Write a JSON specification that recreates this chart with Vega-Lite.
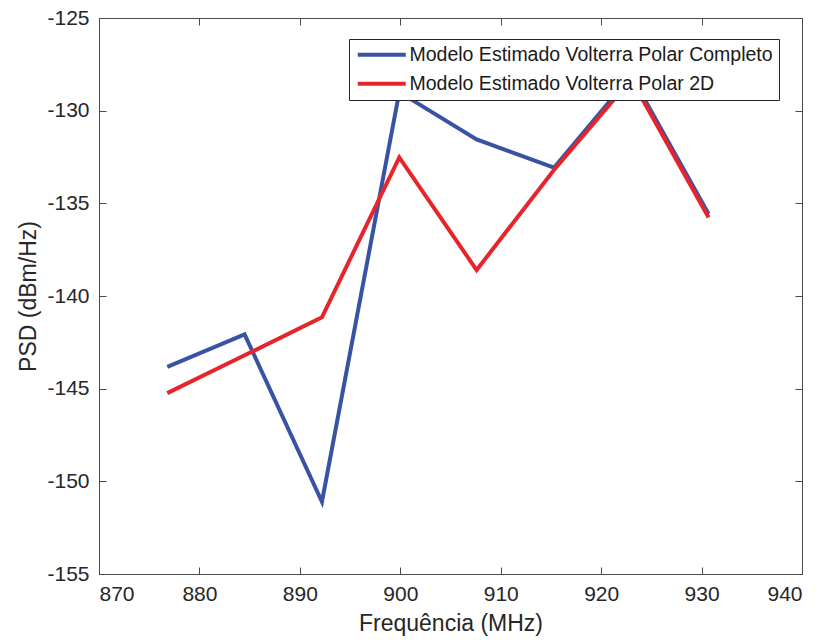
{
  "$schema": "https://vega.github.io/schema/vega-lite/v6.json",
  "width": 703,
  "height": 556,
  "autosize": {"type": "none"},
  "padding": {"left": 99, "top": 18, "right": 19, "bottom": 70},
  "background": "white",
  "config": {
    "font": "Liberation Sans",
    "view": {"stroke": "#4a4a4a", "strokeWidth": 1},
    "axis": {
      "domainColor": "#4a4a4a",
      "tickColor": "#4a4a4a",
      "labelColor": "#262626",
      "titleColor": "#262626",
      "labelFont": "Liberation Sans",
      "titleFont": "Liberation Sans",
      "labelFontSize": 21,
      "titleFontSize": 23,
      "titleFontWeight": "normal",
      "grid": false,
      "tickSize": -7
    },
    "legend": {
      "labelFont": "Liberation Sans",
      "labelFontSize": 19.5,
      "labelColor": "#1a1a1a"
    }
  },
  "data": {
    "values": [
      {"freq": 876.8, "psd": -143.82, "modelo": "Modelo Estimado Volterra Polar Completo"},
      {"freq": 884.5, "psd": -142.07, "modelo": "Modelo Estimado Volterra Polar Completo"},
      {"freq": 892.2, "psd": -151.1, "modelo": "Modelo Estimado Volterra Polar Completo"},
      {"freq": 899.9, "psd": -129.0, "modelo": "Modelo Estimado Volterra Polar Completo"},
      {"freq": 907.6, "psd": -131.55, "modelo": "Modelo Estimado Volterra Polar Completo"},
      {"freq": 915.3, "psd": -133.08, "modelo": "Modelo Estimado Volterra Polar Completo"},
      {"freq": 923.0, "psd": -128.1, "modelo": "Modelo Estimado Volterra Polar Completo"},
      {"freq": 930.7, "psd": -135.58, "modelo": "Modelo Estimado Volterra Polar Completo"},
      {"freq": 876.8, "psd": -145.24, "modelo": "Modelo Estimado Volterra Polar 2D"},
      {"freq": 884.5, "psd": -143.2, "modelo": "Modelo Estimado Volterra Polar 2D"},
      {"freq": 892.2, "psd": -141.15, "modelo": "Modelo Estimado Volterra Polar 2D"},
      {"freq": 899.9, "psd": -132.52, "modelo": "Modelo Estimado Volterra Polar 2D"},
      {"freq": 907.6, "psd": -138.6, "modelo": "Modelo Estimado Volterra Polar 2D"},
      {"freq": 915.3, "psd": -133.2, "modelo": "Modelo Estimado Volterra Polar 2D"},
      {"freq": 923.0, "psd": -128.3, "modelo": "Modelo Estimado Volterra Polar 2D"},
      {"freq": 930.7, "psd": -135.76, "modelo": "Modelo Estimado Volterra Polar 2D"}
    ]
  },
  "layer": [
    {
      "transform": [{"filter": "datum.modelo === 'Modelo Estimado Volterra Polar Completo'"}],
      "mark": {"type": "line", "strokeWidth": 4, "strokeJoin": "miter"},
      "encoding": {
        "x": {"field": "freq", "type": "quantitative", "scale": {"domain": [870, 940], "nice": false, "zero": false},
              "axis": {"title": "Frequência (MHz)", "values": [870, 880, 890, 900, 910, 920, 930, 940], "labelPadding": 16, "titlePadding": 8}},
        "y": {"field": "psd", "type": "quantitative", "scale": {"domain": [-155, -125], "nice": false, "zero": false},
              "axis": {"title": "PSD (dBm/Hz)", "values": [-155, -150, -145, -140, -135, -130, -125], "labelPadding": 17, "titlePadding": 6, "labelExpr": "toString(datum.value)"}},
        "color": {"field": "modelo", "type": "nominal",
                  "scale": {"domain": ["Modelo Estimado Volterra Polar Completo", "Modelo Estimado Volterra Polar 2D"], "range": ["#3953a4", "#e8242b"]},
                  "legend": {"title": null, "orient": "none", "legendX": 250, "legendY": 21, "symbolType": "M-4,0H4", "symbolSize": 144, "symbolStrokeWidth": 4,
                             "symbolOffset": 17, "labelOffset": 18,
                             "strokeColor": "#262626", "fillColor": "white", "padding": 6, "labelLimit": 600, "rowPadding": 8}}
      }
    },
    {
      "transform": [{"filter": "datum.modelo === 'Modelo Estimado Volterra Polar 2D'"}],
      "mark": {"type": "line", "strokeWidth": 4, "strokeJoin": "miter"},
      "encoding": {
        "x": {"field": "freq", "type": "quantitative", "axis": null},
        "y": {"field": "psd", "type": "quantitative", "axis": null},
        "color": {"field": "modelo", "type": "nominal"}
      }
    },
    {
      "mark": {"type": "line", "opacity": 0},
      "encoding": {
        "x": {"field": "freq", "type": "quantitative",
              "axis": {"orient": "top", "labels": false, "title": null, "domain": false, "values": [870, 880, 890, 900, 910, 920, 930, 940]}},
        "y": {"field": "psd", "type": "quantitative",
              "axis": {"orient": "right", "labels": false, "title": null, "domain": false, "values": [-155, -150, -145, -140, -135, -130, -125]}},
        "detail": {"field": "modelo"}
      }
    }
  ],
  "resolve": {"axis": {"x": "independent", "y": "independent"}}
}
